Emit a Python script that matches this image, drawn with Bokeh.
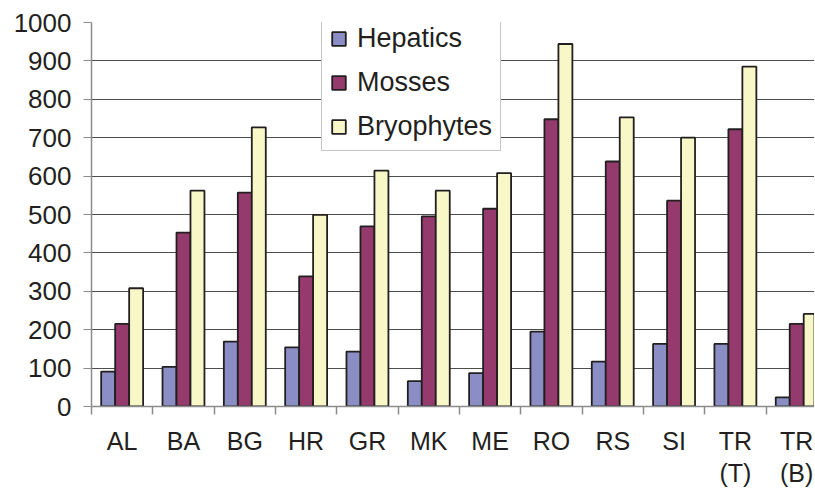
from bokeh.plotting import figure
from bokeh.models import Range1d, FixedTicker
from bokeh.embed import file_html
from bokeh.resources import INLINE

categories = ["AL", "BA", "BG", "HR", "GR", "MK", "ME", "RO", "RS", "SI", "TR\n(T)", "TR\n(B)"]
hepatics = [91, 103, 169, 154, 143, 66, 87, 195, 117, 163, 163, 24]
mosses = [215, 453, 557, 339, 469, 495, 515, 748, 638, 536, 722, 215]
bryophytes = [308, 562, 727, 499, 614, 562, 608, 944, 753, 700, 885, 241]
y_ticks = [0, 100, 200, 300, 400, 500, 600, 700, 800, 900, 1000]

FONT = "Liberation Sans"
TXT = "#231f20"

n = len(categories)
centers = [i + 0.5 for i in range(n)]
bw = 0.228

p = figure(frame_width=723, frame_height=384, output_backend="svg", toolbar_location=None,
           x_range=Range1d(0, 11.79), y_range=Range1d(0, 1000),
           min_border_left=91, min_border_right=0, min_border_top=22, min_border_bottom=80)

series = [("Hepatics", hepatics, "#8a8ec4", -bw),
          ("Mosses", mosses, "#943a6c", 0.0),
          ("Bryophytes", bryophytes, "#f8f7c8", bw)]
for name, vals, col, off in series:
    p.vbar(x=[c + off for c in centers], top=vals, bottom=0, width=bw,
           fill_color=col, line_color="#231f20", line_width=1.8, legend_label=name)

# y axis
p.yaxis.ticker = FixedTicker(ticks=y_ticks)
p.yaxis.major_tick_out = 8
p.yaxis.major_tick_in = 0
p.yaxis.minor_tick_line_color = None
p.yaxis.axis_line_color = "#8c8c8c"
p.yaxis.axis_line_width = 1.5
p.yaxis.major_tick_line_color = "#8c8c8c"
p.yaxis.major_label_text_font = FONT
p.yaxis.major_label_text_font_size = "26px"
p.yaxis.major_label_text_color = TXT
p.yaxis.major_label_standoff = 12

# x axis
p.xaxis.ticker = FixedTicker(ticks=centers, minor_ticks=list(range(n + 1)))
p.xaxis.major_label_overrides = {c: lab for c, lab in zip(centers, categories)}
p.xaxis.major_tick_out = 0
p.xaxis.major_tick_in = 0
p.xaxis.minor_tick_out = 8
p.xaxis.minor_tick_in = 0
p.xaxis.minor_tick_line_color = "#8c8c8c"
p.xaxis.minor_tick_line_width = 1.5
p.xaxis.axis_line_color = "#8c8c8c"
p.xaxis.axis_line_width = 1.5
p.xaxis.major_label_text_font = FONT
p.xaxis.major_label_text_font_size = "25px"
p.xaxis.major_label_text_color = TXT
p.xaxis.major_label_text_line_height = 1.15
p.xaxis.major_label_standoff = 12

p.xgrid.grid_line_color = None
p.ygrid.ticker = FixedTicker(ticks=y_ticks)
p.ygrid.grid_line_color = "#4d4d4d"
p.ygrid.grid_line_width = 1.2
p.outline_line_color = None

lg = p.legend[0]
lg.location = (230, 255)
lg.label_text_font = FONT
lg.label_text_font_size = "27px"
lg.label_text_color = TXT
lg.glyph_width = 17
lg.glyph_height = 17
lg.label_standoff = 10
lg.padding = 8
lg.spacing = 13
lg.margin = 0
lg.border_line_color = "#8c8c8c"
lg.border_line_width = 1.2
lg.background_fill_alpha = 1

open("out.html", "w").write(file_html(p, INLINE))
